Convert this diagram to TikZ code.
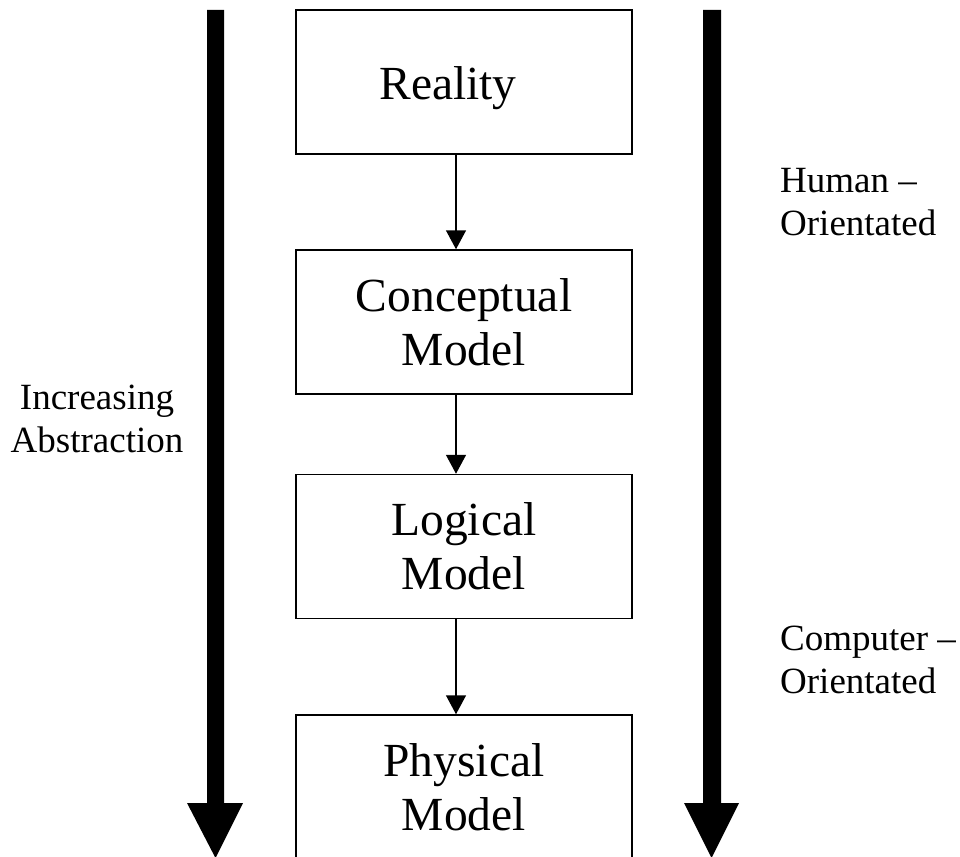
\documentclass[tikz,border=0pt]{standalone}
\usepackage{fontspec}
\setmainfont{Liberation Serif}
\usetikzlibrary{arrows.meta}
\begin{document}
\begin{tikzpicture}[x=1pt,y=-1pt,
  box/.style={draw=black,line width=1.5pt,minimum width=336pt,minimum height=144pt,
    align=center,inner sep=0pt,font=\fontsize{47.5}{54}\selectfont},
  conn/.style={line width=1.5pt,-{Triangle[width=20pt,length=19pt]}},
  side/.style={align=left,inner sep=0pt,font=\fontsize{37}{43}\selectfont},
  bigarrow/.style={fill=black}]
\useasboundingbox (0,0) rectangle (960,856);
\fill[white] (0,0) rectangle (960,856);
% thick arrows
\fill[bigarrow] (207,10) -- (224,10) -- (224,803) -- (243,803) -- (215.5,858) -- (187,803) -- (207,803) -- cycle;
\fill[bigarrow] (703,10) -- (721,10) -- (721,803) -- (739,803) -- (711.5,858) -- (684,803) -- (703,803) -- cycle;
% boxes
\node[box] (reality) at (464,82) {\raisebox{-6pt}[\height][\depth]{\hspace*{-32pt}Reality}};
\node[box] (concept) at (464,322) {Conceptual\\Model};
\node[box] (logical) at (464,546.5) {Logical\\Model};
\node[box] (physical) at (464,787) {Physical\\Model};
\coordinate (ax) at (456,0);
\draw[conn] (reality.south -| ax) -- (concept.north -| ax);
\draw[conn] (concept.south -| ax) -- (logical.north -| ax);
\draw[conn] (logical.south -| ax) -- (physical.north -| ax);
% labels
\node[side,align=center] (abs) at (97,419) {Increasing\\Abstraction};
\node[side,anchor=west] (human) at (780,202) {Human --\\Orientated};
\node[side,anchor=west] (comp) at (780,660) {Computer --\\Orientated};
\end{tikzpicture}
\end{document}
